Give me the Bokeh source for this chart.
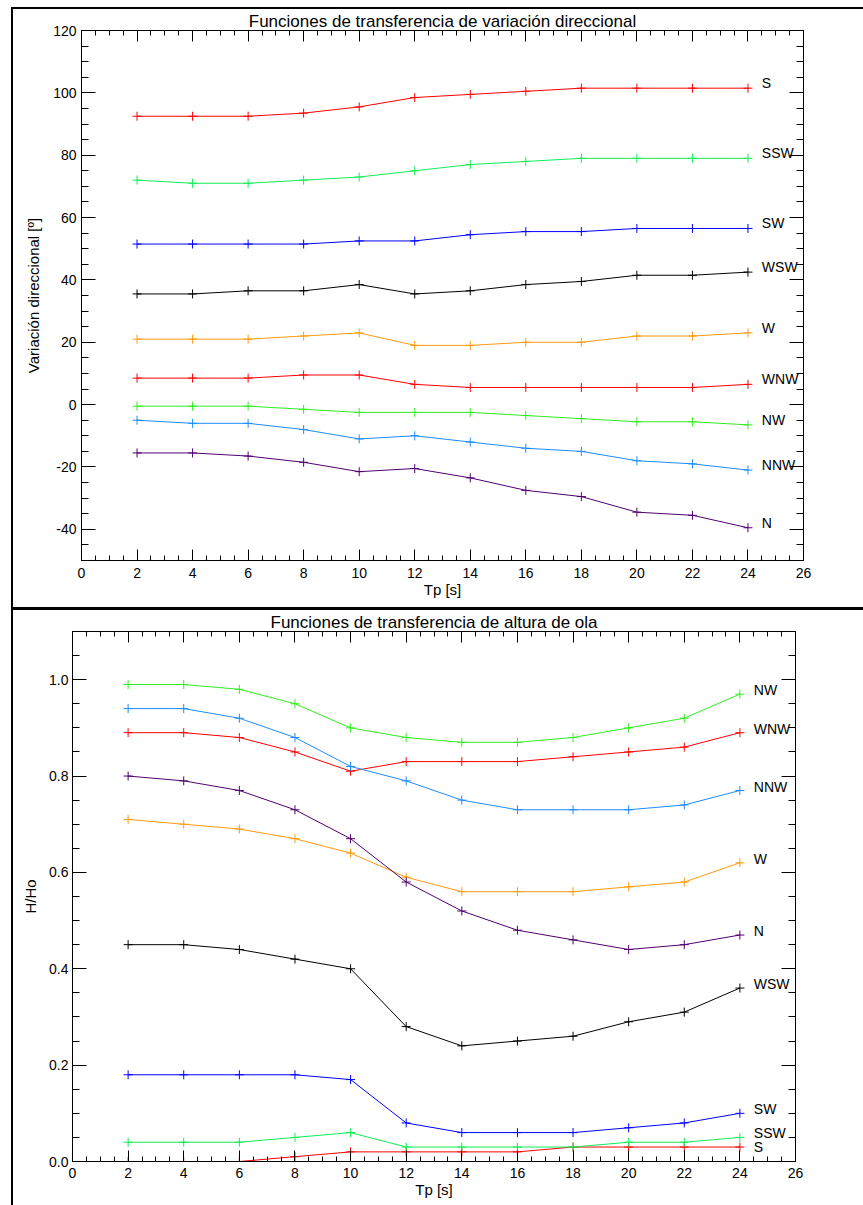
from bokeh.plotting import figure
from bokeh.models import (LinearAxis, FixedTicker, Div, Spacer, CustomJSTickFormatter,
                          PrintfTickFormatter, Range1d, ColumnDataSource)
from bokeh.layouts import column, row
from bokeh.core.properties import value
from bokeh.embed import file_html
from bokeh.resources import INLINE

# ---------------- data ----------------
TP = [2, 4, 6, 8, 10, 12, 14, 16, 18, 20, 22, 24]

DIRECTIONS = ["S", "SSW", "SW", "WSW", "W", "WNW", "NW", "NNW", "N"]

# Directional variation transfer functions [deg]
DIR_S = [92.5, 92.5, 92.5, 93.5, 95.5, 98.5, 99.5, 100.5, 101.5, 101.5, 101.5, 101.5]
DIR_SSW = [72, 71, 71, 72, 73, 75, 77, 78, 79, 79, 79, 79]
DIR_SW = [51.5, 51.5, 51.5, 51.5, 52.5, 52.5, 54.5, 55.5, 55.5, 56.5, 56.5, 56.5]
DIR_WSW = [35.5, 35.5, 36.5, 36.5, 38.5, 35.5, 36.5, 38.5, 39.5, 41.5, 41.5, 42.5]
DIR_W = [21, 21, 21, 22, 23, 19, 19, 20, 20, 22, 22, 23]
DIR_WNW = [8.5, 8.5, 8.5, 9.5, 9.5, 6.5, 5.5, 5.5, 5.5, 5.5, 5.5, 6.5]
DIR_NW = [-0.5, -0.5, -0.5, -1.5, -2.5, -2.5, -2.5, -3.5, -4.5, -5.5, -5.5, -6.5]
DIR_NNW = [-5, -6, -6, -8, -11, -10, -12, -14, -15, -18, -19, -21]
DIR_N = [-15.5, -15.5, -16.5, -18.5, -21.5, -20.5, -23.5, -27.5, -29.5, -34.5, -35.5, -39.5]

# Wave height transfer functions H/Ho
H_S = [0.00, 0.00, 0.00, 0.01, 0.02, 0.02, 0.02, 0.02, 0.03, 0.03, 0.03, 0.03]
H_SSW = [0.04, 0.04, 0.04, 0.05, 0.06, 0.03, 0.03, 0.03, 0.03, 0.04, 0.04, 0.05]
H_SW = [0.18, 0.18, 0.18, 0.18, 0.17, 0.08, 0.06, 0.06, 0.06, 0.07, 0.08, 0.10]
H_WSW = [0.45, 0.45, 0.44, 0.42, 0.40, 0.28, 0.24, 0.25, 0.26, 0.29, 0.31, 0.36]
H_W = [0.71, 0.70, 0.69, 0.67, 0.64, 0.59, 0.56, 0.56, 0.56, 0.57, 0.58, 0.62]
H_WNW = [0.89, 0.89, 0.88, 0.85, 0.81, 0.83, 0.83, 0.83, 0.84, 0.85, 0.86, 0.89]
H_NW = [0.99, 0.99, 0.98, 0.95, 0.90, 0.88, 0.87, 0.87, 0.88, 0.90, 0.92, 0.97]
H_NNW = [0.94, 0.94, 0.92, 0.88, 0.82, 0.79, 0.75, 0.73, 0.73, 0.73, 0.74, 0.77]
H_N = [0.80, 0.79, 0.77, 0.73, 0.67, 0.58, 0.52, 0.48, 0.46, 0.44, 0.45, 0.47]

DIR_SERIES = [DIR_S, DIR_SSW, DIR_SW, DIR_WSW, DIR_W, DIR_WNW, DIR_NW, DIR_NNW, DIR_N]
H_SERIES = [H_S, H_SSW, H_SW, H_WSW, H_W, H_WNW, H_NW, H_NNW, H_N]

X_TICKS = [0, 2, 4, 6, 8, 10, 12, 14, 16, 18, 20, 22, 24, 26]
DIR_Y_TICKS = [-40, -20, 0, 20, 40, 60, 80, 100, 120]
H_Y_TICKS = [0.0, 0.2, 0.4, 0.6, 0.8, 1.0]

# ---------------- style ----------------
COLORS = {
    "S": "#FF0000", "SSW": "#10EE55", "SW": "#0000FF", "WSW": "#000000",
    "W": "#FF9A10", "WNW": "#FF0000", "NW": "#30EE20", "NNW": "#1E8CFF",
    "N": "#500070",
}
FONT = "Liberation Sans"


def add_axis(p, side, ticker, minor, major_in, minor_in, labels=True, fmt=None,
             standoff=5, axis_label=None, axis_label_standoff=0):
    ax = LinearAxis(ticker=FixedTicker(ticks=ticker, minor_ticks=minor))
    ax.axis_line_color = "black"
    ax.axis_line_width = 1
    ax.major_tick_line_color = "black"
    ax.minor_tick_line_color = "black"
    ax.major_tick_in = major_in
    ax.major_tick_out = 0
    ax.minor_tick_in = minor_in
    ax.minor_tick_out = 0
    if labels:
        if fmt is not None:
            ax.formatter = fmt
        ax.major_label_text_font = FONT
        ax.major_label_text_font_size = "14px"
        ax.major_label_text_color = "black"
        ax.major_label_standoff = standoff
        ax.major_label_orientation = "horizontal"
    else:
        ax.formatter = CustomJSTickFormatter(code="return ''")
        ax.major_label_text_font_size = "0px"
        ax.major_label_standoff = 0
    if axis_label:
        ax.axis_label = axis_label
        ax.axis_label_text_font = FONT
        ax.axis_label_text_font_size = "15px"
        ax.axis_label_text_font_style = "normal"
        ax.axis_label_text_color = "black"
        ax.axis_label_standoff = axis_label_standoff
    p.add_layout(ax, side)
    return ax


def make_chart(title, series, y_range, y_ticks, y_minor, y_fmt, y_label,
               width, height, mbl, mbr, mbt, mbb, x_standoff, y_standoff,
               y_label_standoff, label_shifts):
    p = figure(width=width, height=height, output_backend="svg", toolbar_location=None,
               x_axis_location=None, y_axis_location=None,
               x_range=Range1d(0, 26), y_range=Range1d(*y_range),
               min_border_left=mbl, min_border_right=mbr,
               min_border_top=mbt, min_border_bottom=mbb)
    p.grid.visible = False
    p.outline_line_color = "black"
    p.background_fill_color = "white"
    p.border_fill_color = "white"
    p.title.text = title
    p.title.align = "center"
    p.title.text_font = FONT
    p.title.text_font_size = "17px"
    p.title.text_font_style = "normal"
    p.title.text_color = "black"
    p.title.standoff = 0
    p.title.offset = 0

    x_minor = [i * 0.5 for i in range(0, 53)]
    add_axis(p, "below", X_TICKS, x_minor, 11, 5, labels=True,
             fmt=PrintfTickFormatter(format="%d"), standoff=x_standoff,
             axis_label="Tp [s]", axis_label_standoff=0)
    add_axis(p, "above", X_TICKS, x_minor, 11, 5, labels=False)
    add_axis(p, "left", y_ticks, y_minor, 14, 7, labels=True, fmt=y_fmt,
             standoff=y_standoff, axis_label=y_label, axis_label_standoff=y_label_standoff)
    add_axis(p, "right", y_ticks, y_minor, 14, 7, labels=False)

    for name, vals in zip(DIRECTIONS, series):
        c = COLORS[name]
        p.line(TP, vals, line_color=c, line_width=1)
        p.scatter(TP, vals, marker="cross", size=9, line_color=c, line_width=1)

    src = ColumnDataSource(dict(
        x=[24.5] * len(DIRECTIONS),
        y=[s[-1] for s in series],
        text=DIRECTIONS,
        dy=label_shifts,
    ))
    p.text(x="x", y="y", text="text", y_offset="dy", source=src,
           text_font=value(FONT), text_font_size="14px", text_color="black",
           text_align="left", text_baseline="middle")
    return p


p1 = make_chart("Funciones de transferencia de variación direccional", DIR_SERIES,
                (-50, 120), DIR_Y_TICKS, list(range(-50, 121, 5)),
                PrintfTickFormatter(format="%d"), "Variación direccional [º]",
                850, 598, 68, 60, 18, 47, 7, 5, 8, [-5] * 9)

p2 = make_chart("Funciones de transferencia de altura de ola", H_SERIES,
                (0, 1.1), H_Y_TICKS, [round(i * 0.05, 2) for i in range(0, 23)],
                PrintfTickFormatter(format="%.1f"), "H/Ho",
                850, 595, 59, 68, 18, 44, 6, 4, 7,
                [0, -4, -4, -4, -4, -4, -4, -4, -4])


def black(w, h):
    return Div(text="", width=w, height=h, margin=(0, 0, 0, 0),
               styles={"background-color": "black"})


def gap(w, h):
    return Spacer(width=w, height=h, margin=(0, 0, 0, 0))


layout = column(
    gap(863, 7),
    row(gap(11, 2), black(852, 2), spacing=0),
    row(gap(11, 598), black(2, 598), p1, spacing=0),
    row(gap(11, 3), black(852, 3), spacing=0),
    row(gap(11, 595), black(2, 595), p2, spacing=0),
    spacing=0,
)

open("out.html", "w").write(file_html(layout, INLINE))
